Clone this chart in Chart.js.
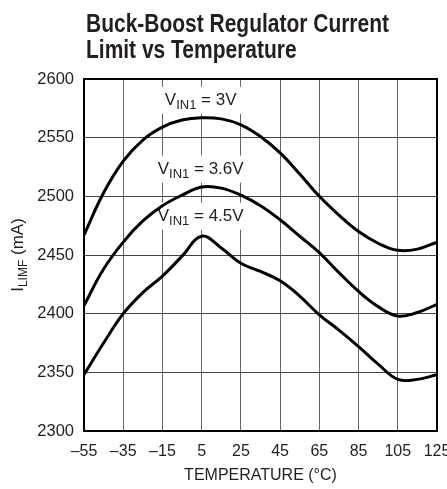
<!DOCTYPE html>
<html><head><meta charset="utf-8">
<script src="https://cdn.jsdelivr.net/npm/chart.js@4.4.1/dist/chart.umd.min.js"></script>
<style>html,body{margin:0;padding:0;background:#fff;}canvas{display:block;}</style>
</head><body>
<canvas id="c" width="447" height="489"></canvas>
<script>
// ---- data ----
const temperatures = [-55,-45,-35,-25,-15,-5,5,15,25,35,45,55,65,75,85,95,105,115,125];
const iLimit3V   = [2467,2503,2530,2548,2559,2565,2567,2566,2561,2551,2537,2519,2500,2484,2470,2460,2454,2455,2461];
const iLimit3p6V = [2407,2438,2461,2479,2492,2501,2508,2507,2501,2492,2480,2466,2452,2435,2419,2406,2398,2401,2408];
const iLimit4p5V = [2348,2375,2400,2418,2432,2449,2466,2456,2443,2436,2428,2415,2399,2386,2372,2357,2344,2344,2348];
const xTickValues = [-55,-35,-15,5,25,45,65,85,105,125];
const yTickValues = [2300,2350,2400,2450,2500,2550,2600];
const titleLines = ['Buck-Boost Regulator Current','Limit vs Temperature'];
const xAxisTitle = 'TEMPERATURE (°C)';
const yAxisTitle = {main:'I', sub:'LIMF', rest:' (mA)'};
const curveLabels = [
  {pre:'V', sub:'IN1', post:' = 3V'},
  {pre:'V', sub:'IN1', post:' = 3.6V'},
  {pre:'V', sub:'IN1', post:' = 4.5V'}
];
// label anchors (temperature, current at text baseline)
const labelAnchors = [[5,2578],[5,2519.3],[5,2479.2]];

const INK = '#231f20';
const FONT = '"Liberation Sans", Arial, sans-serif';

function pts(vals){ return temperatures.map((t,i)=>({x:t,y:vals[i]})); }
function fmtMinus(v){ return v<0 ? '\u2013'+Math.abs(v) : String(v); }

const decor = {
  id:'decor',
  beforeDatasetsDraw(chart){
    const {ctx, scales:{x,y}} = chart;
    ctx.save();
    curveLabels.forEach((lb,i)=>{
      const cx = x.getPixelForValue(labelAnchors[i][0]) - 1;
      const by = y.getPixelForValue(labelAnchors[i][1]);
      ctx.font = '17px '+FONT;
      const w1 = ctx.measureText(lb.pre).width, w3 = ctx.measureText(lb.post).width;
      ctx.font = '13px '+FONT;
      const w2 = ctx.measureText(lb.sub).width;
      const tw = w1+w2+w3;
      ctx.fillStyle = '#fff';
      ctx.fillRect(cx-46, by-18, 92, 27);
      ctx.fillStyle = INK;
      ctx.textBaseline = 'alphabetic';
      ctx.textAlign = 'left';
      let sx = cx - tw/2;
      ctx.font = '17px '+FONT; ctx.fillText(lb.pre, sx, by);
      ctx.font = '13px '+FONT; ctx.fillText(lb.sub, sx+w1, by+4);
      ctx.font = '17px '+FONT; ctx.fillText(lb.post, sx+w1+w2, by);
    });
    ctx.restore();
  },
  afterDraw(chart){
    const {ctx, chartArea:a} = chart;
    ctx.save();
    // frame
    ctx.strokeStyle = '#000'; ctx.lineWidth = 2;
    ctx.strokeRect(a.left, a.top, a.right-a.left, a.bottom-a.top);
    // title
    ctx.fillStyle = INK; ctx.textBaseline='alphabetic'; ctx.textAlign='left';
    ctx.font = 'bold 26px "Liberation Sans Narrow", "Liberation Sans", Arial, sans-serif';
    const w0 = ctx.measureText(titleLines[0]).width;
    const s = 303 / w0;
    [[titleLines[0],31.7],[titleLines[1],57.5]].forEach(([t,yy])=>{
      ctx.save(); ctx.translate(86,yy); ctx.scale(s,1); ctx.fillText(t,0,0); ctx.restore();
    });
    // y axis title
    ctx.save();
    const cy = (a.top+a.bottom)/2;
    ctx.translate(23, cy); ctx.rotate(-Math.PI/2);
    ctx.font = '17px '+FONT; const m1 = ctx.measureText(yAxisTitle.main).width, m3 = ctx.measureText(yAxisTitle.rest).width;
    ctx.font = '12px '+FONT; const m2 = ctx.measureText(yAxisTitle.sub).width;
    let sx = -(m1+m2+m3)/2;
    ctx.font = '17px '+FONT; ctx.fillText(yAxisTitle.main, sx, 0);
    ctx.font = '12px '+FONT; ctx.fillText(yAxisTitle.sub, sx+m1, 3.5);
    ctx.font = '17px '+FONT; ctx.fillText(yAxisTitle.rest, sx+m1+m2, 0);
    ctx.restore();
    ctx.restore();
  }
};

const lineStyle = {borderColor:'#000', borderWidth:3, pointRadius:0, fill:false, tension:0.4};

new Chart(document.getElementById('c'), {
  type:'line',
  data:{ datasets:[
    Object.assign({label:'VIN1 = 3V', data:pts(iLimit3V)}, lineStyle),
    Object.assign({label:'VIN1 = 3.6V', data:pts(iLimit3p6V)}, lineStyle),
    Object.assign({label:'VIN1 = 4.5V', data:pts(iLimit4p5V)}, lineStyle)
  ]},
  options:{
    responsive:false, animation:false, events:[],
    layout:{padding:{top:79, right:10, left:0, bottom:0}},
    plugins:{legend:{display:false}, tooltip:{enabled:false}, title:{display:false}},
    scales:{
      x:{ type:'linear', min:-55, max:125,
        afterBuildTicks(s){ s.ticks = xTickValues.map(v=>({value:v})); },
        afterFit(s){ s.height = 58; s.paddingLeft = 0; s.paddingRight = 0; },
        grid:{color:'#666', lineWidth:1, drawTicks:false},
        border:{display:false},
        ticks:{padding:11, color:INK, font:{family:FONT, size:16}, maxRotation:0, autoSkip:false, callback:v=>fmtMinus(v)},
        title:{display:true, text:xAxisTitle, color:INK, font:{family:FONT, size:16}, padding:{top:0,bottom:4}}
      },
      y:{ min:2300, max:2600,
        afterBuildTicks(s){ s.ticks = yTickValues.map(v=>({value:v})); },
        afterFit(s){ s.width = 84; s.paddingTop = 0; s.paddingBottom = 0; },
        grid:{color:'#444', lineWidth:1, drawTicks:false},
        border:{display:false},
        ticks:{padding:10, color:INK, font:{family:FONT, size:16.5}, autoSkip:false, callback:v=>String(v)}
      }
    }
  },
  plugins:[decor]
});
</script>
</body></html>
